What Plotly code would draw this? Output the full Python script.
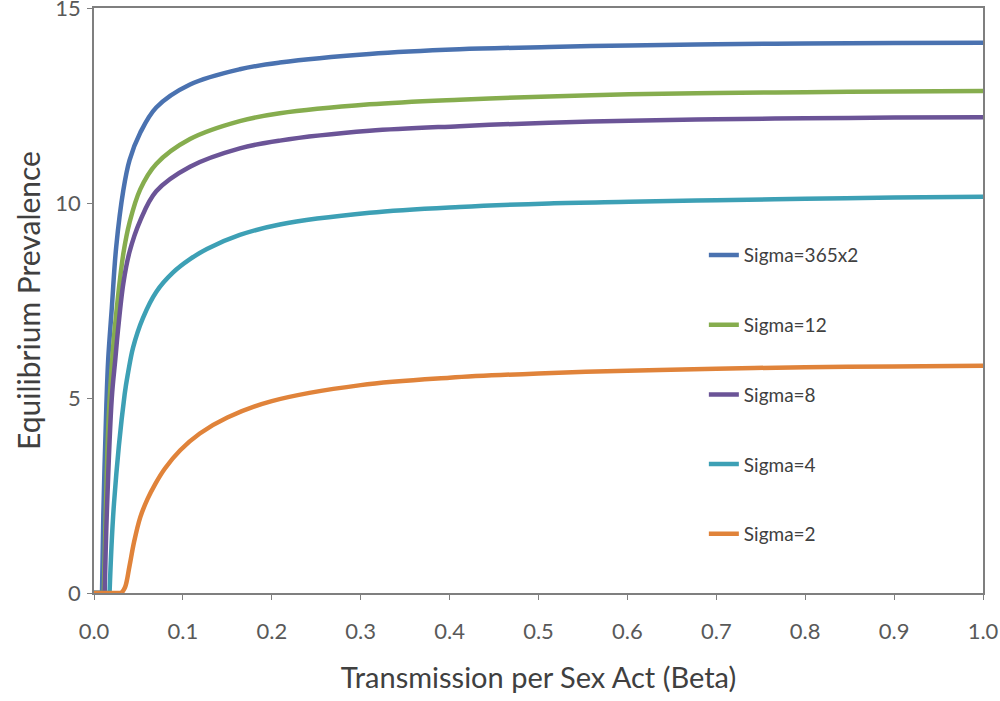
import plotly.graph_objects as go

# Values (beta, equilibrium prevalence)
beta_s730 = [0.0, 0.009, 0.0105, 0.0139, 0.016, 0.020, 0.025, 0.033, 0.040, 0.052,
             0.070, 0.108, 0.164, 0.209, 0.31, 0.411, 0.512, 0.602, 0.7, 0.8, 0.9, 1.0]
prev_s730 = [0.0, 0.0, 2.0, 4.8, 6.0, 7.3, 8.88, 10.33, 11.1, 11.8,
             12.45, 13.04, 13.43, 13.6, 13.82, 13.94, 14.0, 14.04, 14.07, 14.09, 14.10, 14.11]

beta_s12 = [0.0, 0.011, 0.0135, 0.0165, 0.0215, 0.025, 0.033, 0.040, 0.052,
            0.070, 0.108, 0.164, 0.209, 0.31, 0.411, 0.512, 0.602, 0.7, 0.8, 0.9, 1.0]
prev_s12 = [0.0, 0.0, 2.3, 4.5, 6.3, 7.17, 8.7, 9.5, 10.35,
            11.0, 11.64, 12.1, 12.3, 12.53, 12.65, 12.73, 12.79, 12.82, 12.84, 12.86, 12.87]

beta_s8 = [0.0, 0.012, 0.0145, 0.020, 0.024, 0.027, 0.033, 0.040, 0.052,
           0.070, 0.108, 0.164, 0.209, 0.31, 0.411, 0.512, 0.602, 0.7, 0.8, 0.9, 1.0]
prev_s8 = [0.0, 0.0, 2.1, 5.0, 6.0, 6.74, 7.94, 8.75, 9.55,
           10.3, 10.93, 11.4, 11.6, 11.85, 11.97, 12.06, 12.11, 12.15, 12.17, 12.19, 12.2]

beta_s4 = [0.0, 0.0175, 0.0225, 0.0345, 0.0385, 0.044, 0.055, 0.070, 0.089, 0.108,
           0.127, 0.164, 0.209, 0.31, 0.411, 0.512, 0.602, 0.7, 0.8, 0.9, 1.0]
prev_s4 = [0.0, 0.0, 2.3, 5.1, 5.67, 6.3, 7.05, 7.72, 8.22, 8.56,
           8.82, 9.18, 9.45, 9.75, 9.9, 9.99, 10.03, 10.07, 10.11, 10.14, 10.16]

beta_s2 = [0.0, 0.031, 0.035, 0.040, 0.045, 0.052, 0.060, 0.069, 0.080, 0.097,
           0.119, 0.15, 0.2, 0.3, 0.4, 0.5, 0.6, 0.7, 0.8, 0.9, 1.0]
prev_s2 = [0.0, 0.0, 0.15, 0.7, 1.3, 1.94, 2.4, 2.8, 3.2, 3.66,
           4.09, 4.5, 4.92, 5.33, 5.52, 5.63, 5.70, 5.75, 5.79, 5.81, 5.83]

series_names = ["Sigma=365x2", "Sigma=12", "Sigma=8", "Sigma=4", "Sigma=2"]
series_x = [beta_s730, beta_s12, beta_s8, beta_s4, beta_s2]
series_y = [prev_s730, prev_s12, prev_s8, prev_s4, prev_s2]
series_colors = ["#4A72B0", "#86AD4E", "#6B5497", "#3DA0B5", "#E0833A"]

x_ticks = [0.0, 0.1, 0.2, 0.3, 0.4, 0.5, 0.6, 0.7, 0.8, 0.9, 1.0]
y_ticks = [0, 5, 10, 15]

FONT = "Lato"
TEXT_COLOR = "#595959"

fig = go.Figure()
for name, xs, ys, col in zip(series_names, series_x, series_y, series_colors):
    # flat part up to the threshold, drawn straight so the spline doesn't hook
    fig.add_trace(go.Scatter(
        x=xs[:2], y=ys[:2], mode="lines", showlegend=False, legendgroup=name,
        line=dict(color=col, width=4.5), hoverinfo="skip",
    ))
    fig.add_trace(go.Scatter(
        x=xs[1:], y=ys[1:], name=name, mode="lines", legendgroup=name,
        line=dict(color=col, width=4.5, shape="spline", smoothing=1.0),
    ))

fig.update_layout(
    width=1000, height=701,
    margin=dict(l=94, r=17, t=8, b=108, autoexpand=False),
    paper_bgcolor="white", plot_bgcolor="white",
    font=dict(family=FONT, color=TEXT_COLOR, size=22),
    showlegend=True,
    legend=dict(
        x=0.686, y=0.61, xanchor="left", yanchor="top",
        bgcolor="rgba(0,0,0,0)", borderwidth=0,
        font=dict(family=FONT, size=19, color="#404040"),
        tracegroupgap=42, itemwidth=30,
    ),
)

fig.update_xaxes(
    range=[0, 1], tickvals=x_ticks, tickformat=".1f", automargin=False,
    showgrid=False, zeroline=False, ticklabeloverflow="allow",
    showline=True, linecolor="#7f7f7f", linewidth=1.5, mirror=True,
    ticks="outside", ticklen=5, tickcolor="#7f7f7f", ticklabelstandoff=13,
    title=dict(text="Transmission per Sex Act (Beta)", standoff=25,
               font=dict(family=FONT, size=29, color="#404040")),
)
fig.update_yaxes(
    range=[0, 15], tickvals=y_ticks, automargin=False,
    showgrid=False, zeroline=False, ticklabeloverflow="allow",
    showline=True, linecolor="#7f7f7f", linewidth=1.5, mirror=True,
    ticks="outside", ticklen=5, tickcolor="#7f7f7f", ticklabelstandoff=2,
    title=dict(text="Equilibrium Prevalence", standoff=6,
               font=dict(family=FONT, size=30, color="#404040")),
)

# the page body has a default 8px margin; drop it so the figure sits at the corner
fig.write_html("out.html", config={"displayModeBar": False},
               post_script="document.body.style.margin='0';")
